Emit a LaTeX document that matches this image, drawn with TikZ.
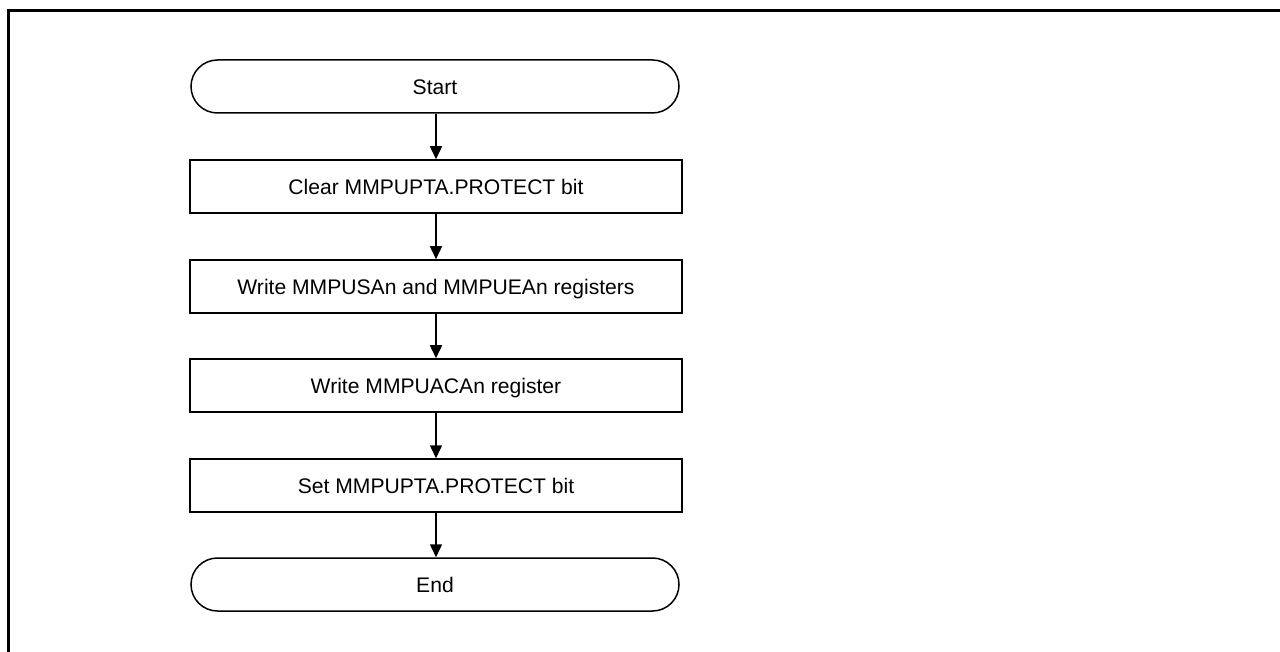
\documentclass[tikz,border=0pt]{standalone}
\usepackage{fontspec}
\setmainfont{Liberation Sans}
\usetikzlibrary{arrows.meta}
\begin{document}
\begin{tikzpicture}[x=1pt,y=-1pt,
  lbl/.style={font=\fontsize{21.1}{25}\selectfont, text height=15.1pt, text depth=0pt, inner sep=0pt},
  stepbox/.style={lbl, draw, line width=1.5pt, minimum width=492pt, minimum height=53pt},
  term/.style={lbl, draw, line width=1.5pt, rounded corners=26.5pt, minimum width=488pt, minimum height=53pt},
  flow/.style={line width=1.5pt, -{Triangle[length=13pt,width=12pt]}},
  frame/.style={line width=3pt}]
\useasboundingbox (0,0) rectangle (1280,652);
\coordinate (fb) at (8.5,652);
\coordinate (fc) at (8.5,10.5);
\coordinate (fr) at (1280,10.5);
\draw[frame] (fb) -- (fc) -- (fr);

\node[term]    (start) at (435,86.5)  {Start};
\node[stepbox] (s1)    at (436,186.5) {Clear MMPUPTA.PROTECT bit};
\node[stepbox] (s2)    at (436,286.5) {Write MMPUSAn and MMPUEAn registers};
\node[stepbox] (s3)    at (436,385.5) {Write MMPUACAn register};
\node[stepbox] (s4)    at (436,485.5) {Set MMPUPTA.PROTECT bit};
\node[term]    (end)   at (435,584.5) {End};

\draw[flow] (start.south -| s1.north) -- (s1.north);
\draw[flow] (s1.south) -- (s2.north);
\draw[flow] (s2.south) -- (s3.north);
\draw[flow] (s3.south) -- (s4.north);
\draw[flow] (s4.south) -- (s4.south |- end.north);
\end{tikzpicture}
\end{document}
